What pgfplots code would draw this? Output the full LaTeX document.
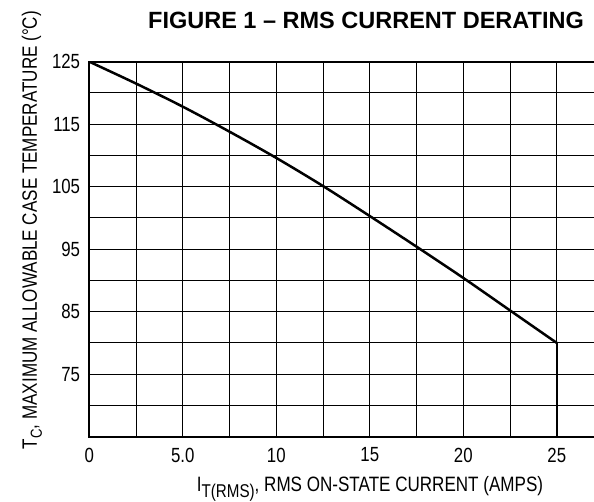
\documentclass[border=0pt]{standalone}
\usepackage{fontspec}
\usepackage{pgfplots}
\pgfplotsset{compat=1.18}
\setmainfont{Liberation Sans}[FakeStretch=0.82]
\newfontfamily\titlefont{Liberation Sans}
\begin{document}
\begin{tikzpicture}
\useasboundingbox (-89.3pt,-65.3pt) rectangle (504.7pt,436.7pt);
\clip (-89.3pt,-65.3pt) rectangle (504.7pt,436.7pt);
\begin{axis}[
  at={(0pt,0pt)}, anchor=south west,
  x=18.7pt, y=6.25pt,
  scale only axis,
  xmin=0, xmax=27.5, ymin=65, ymax=125,
  xtick={0,5,10,15,20,25},
  xticklabels={0,5.0,10,15,20,25},
  minor xtick={2.5,7.5,12.5,17.5,22.5,27.5},
  ytick={75,85,95,105,115,125},
  yticklabels={75,85,95,105,115,125},
  minor ytick={70,80,90,100,110,120},
  grid=both,
  major grid style={black, line width=1.1pt},
  minor grid style={black, line width=1.1pt},
  major tick length=0pt, minor tick length=0pt,
  axis line style={black, line width=1.8pt},
  /pgf/number format/assume math mode=true,
  ticklabel style={font=\fontsize{20.5}{24}\selectfont, inner sep=0pt},
  xticklabel style={yshift=-11pt},
  yticklabel style={xshift=-9pt},
]
\addplot[black, line width=2.5pt, smooth, tension=0.5] coordinates {
  (0,125) (2.5,121.5) (5,117.8) (7.5,113.8) (10,109.6) (12.5,105.1)
  (15,100.3) (17.5,95.4) (20,90.4) (22.5,85.2) (25,80.0)
};
\addplot[black, line width=2.6pt] coordinates {(25,80.0) (25,65)};
\end{axis}
\node[anchor=base west, inner sep=0pt, font=\titlefont\bfseries\fontsize{23.5}{28}\selectfont]
  at (58.7pt,408.4pt) {FIGURE 1 – RMS CURRENT DERATING};
\node[anchor=base, rotate=90, inner sep=0pt, font=\fontsize{20.8}{24}\selectfont]
  at (-52.3pt,206.7pt) {T\raisebox{-5pt}{\fontsize{16}{18}\selectfont C}, MAXIMUM ALLOWABLE CASE TEMPERATURE (°C)};
\node[anchor=base, inner sep=0pt, font=\fontsize{20.8}{24}\selectfont]
  at (280.7pt,-55.3pt) {I\raisebox{-6pt}{\fontsize{18.5}{20}\selectfont T(RMS)}, RMS ON-STATE CURRENT (AMPS)};
\end{tikzpicture}
\end{document}
